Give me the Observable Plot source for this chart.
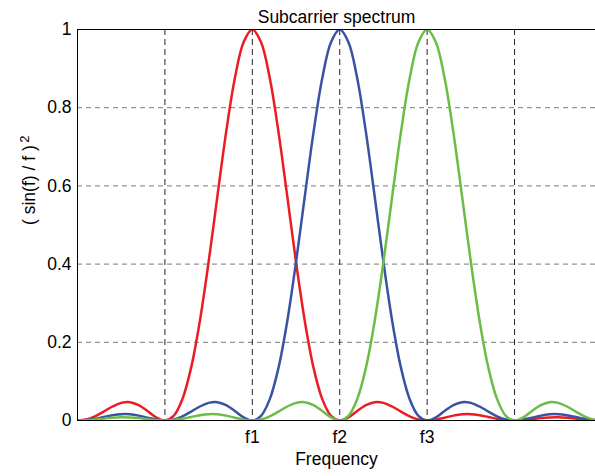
<!DOCTYPE html>
<html>
<head>
<meta charset="utf-8">
<script src="https://cdn.jsdelivr.net/npm/d3@7"></script>
<script src="https://cdn.jsdelivr.net/npm/@observablehq/plot@0.6"></script>
<style>
  html, body { margin: 0; padding: 0; background: #fff; }
  #chart svg { display: block; }
</style>
</head>
<body>
<div id="chart"></div>
<script>
// Frequency axis samples (units of subcarrier spacing)
const freq = [0,0.1,0.2,0.3,0.4,0.5,0.6,0.7,0.8,0.9,
  1,1.1,1.2,1.3,1.4,1.5,1.6,1.7,1.8,1.9,
  2,2.1,2.2,2.3,2.4,2.5,2.6,2.7,2.8,2.9,
  3,3.1,3.2,3.3,3.4,3.5,3.6,3.7,3.8,3.9,
  4,4.1,4.2,4.3,4.4,4.5,4.6,4.7,4.8,4.9,
  5,5.1,5.2,5.3,5.4,5.5,5.6,5.7,5.8,5.9,6];

// Subcarrier f1 (red)
const sub1 = [0,0.0027,0.0108,0.0229,0.0358,0.0450,0.0468,0.0392,0.0243,0.0080,
  0,0.0119,0.0547,0.1353,0.2546,0.4053,0.5728,0.7368,0.8751,0.9675,
  1,0.9675,0.8751,0.7368,0.5728,0.4053,0.2546,0.1353,0.0547,0.0119,
  0,0.0080,0.0243,0.0392,0.0468,0.0450,0.0358,0.0229,0.0108,0.0027,
  0,0.0022,0.0072,0.0125,0.0159,0.0162,0.0136,0.0091,0.0045,0.0012,
  0,0.0010,0.0034,0.0061,0.0079,0.0083,0.0071,0.0048,0.0024,0.0006,0];

// Subcarrier f2 (blue)
const sub2 = [0,0.0012,0.0045,0.0091,0.0136,0.0162,0.0159,0.0125,0.0072,0.0022,
  0,0.0027,0.0108,0.0229,0.0358,0.0450,0.0468,0.0392,0.0243,0.0080,
  0,0.0119,0.0547,0.1353,0.2546,0.4053,0.5728,0.7368,0.8751,0.9675,
  1,0.9675,0.8751,0.7368,0.5728,0.4053,0.2546,0.1353,0.0547,0.0119,
  0,0.0080,0.0243,0.0392,0.0468,0.0450,0.0358,0.0229,0.0108,0.0027,
  0,0.0022,0.0072,0.0125,0.0159,0.0162,0.0136,0.0091,0.0045,0.0012,0];

// Subcarrier f3 (green)
const sub3 = [0,0.0006,0.0024,0.0048,0.0071,0.0083,0.0079,0.0061,0.0034,0.0010,
  0,0.0012,0.0045,0.0091,0.0136,0.0162,0.0159,0.0125,0.0072,0.0022,
  0,0.0027,0.0108,0.0229,0.0358,0.0450,0.0468,0.0392,0.0243,0.0080,
  0,0.0119,0.0547,0.1353,0.2546,0.4053,0.5728,0.7368,0.8751,0.9675,
  1,0.9675,0.8751,0.7368,0.5728,0.4053,0.2546,0.1353,0.0547,0.0119,
  0,0.0080,0.0243,0.0392,0.0468,0.0450,0.0358,0.0229,0.0108,0.0027,0];

const seriesNames = ["f1", "f2", "f3"];
const seriesColors = ["#ec1c24", "#3a52a4", "#6abd45"];

const xGridTicks = [1, 2, 3, 4, 5];
const xLabelTicks = [2, 3, 4];
const xTickLabels = ["f1", "f2", "f3"];
const yTicks = [0, 0.2, 0.4, 0.6, 0.8, 1];
const yGridTicks = [0.2, 0.4, 0.6, 0.8];

const title = "Subcarrier spectrum";
const xLabel = "Frequency";
const yLabelBase = "( sin(f) / f )";
const yLabelExp = "2";

const rows = [];
[sub1, sub2, sub3].forEach((vals, k) => {
  vals.forEach((v, i) => rows.push({f: freq[i], v, s: seriesNames[k]}));
});

const font = "'Liberation Sans', Arial, Helvetica, sans-serif";

const chart = Plot.plot({
  width: 595,
  height: 476,
  marginLeft: 77,
  marginRight: 0,
  marginTop: 29,
  marginBottom: 56,
  style: {fontFamily: font, fontSize: "17.5px", background: "#fff", color: "#000"},
  x: {domain: [0, 5.926], label: null},
  y: {domain: [0, 1], label: null},
  color: {domain: seriesNames, range: seriesColors},
  marks: [
    Plot.gridY(yGridTicks, {stroke: "#777", strokeOpacity: 1, strokeDasharray: "5,4"}),
    Plot.gridX(xGridTicks, {stroke: "#222", strokeOpacity: 1, strokeDasharray: "6,4"}),
    Plot.line(rows, {x: "f", y: "v", z: "s", stroke: "s", strokeWidth: 2.5, curve: "catmull-rom", clip: true}),
    Plot.ruleX([0], {stroke: "#000"}),
    Plot.ruleY([0, 1], {stroke: "#000"}),
    Plot.axisY(yTicks, {tickSize: 0, tickPadding: 6, fontSize: 17.5, tickFormat: d => String(d), label: null}),
    Plot.axisX(xLabelTicks, {tickSize: 0, tickPadding: 10, fontSize: 17.5, tickFormat: (d, i) => xTickLabels[i], label: null}),
    Plot.text([xLabel], {frameAnchor: "bottom", dy: 44, fontSize: 17.5}),
    Plot.text([title], {frameAnchor: "top", dy: -19, fontSize: 17.5}),
    Plot.text([yLabelBase], {frameAnchor: "left", dx: -48, rotate: -90, fontSize: 17.5, className: "ylab"})
  ]
});

// add the superscript exponent to the y label as real text
d3.select(chart).selectAll("g.ylab text").each(function () {
  const t = d3.select(this);
  t.append("tspan").attr("dx", "0.2em").attr("dy", "-0.5em").attr("font-size", "0.75em").text(yLabelExp);
});

document.getElementById("chart").appendChild(chart);
</script>
</body>
</html>
